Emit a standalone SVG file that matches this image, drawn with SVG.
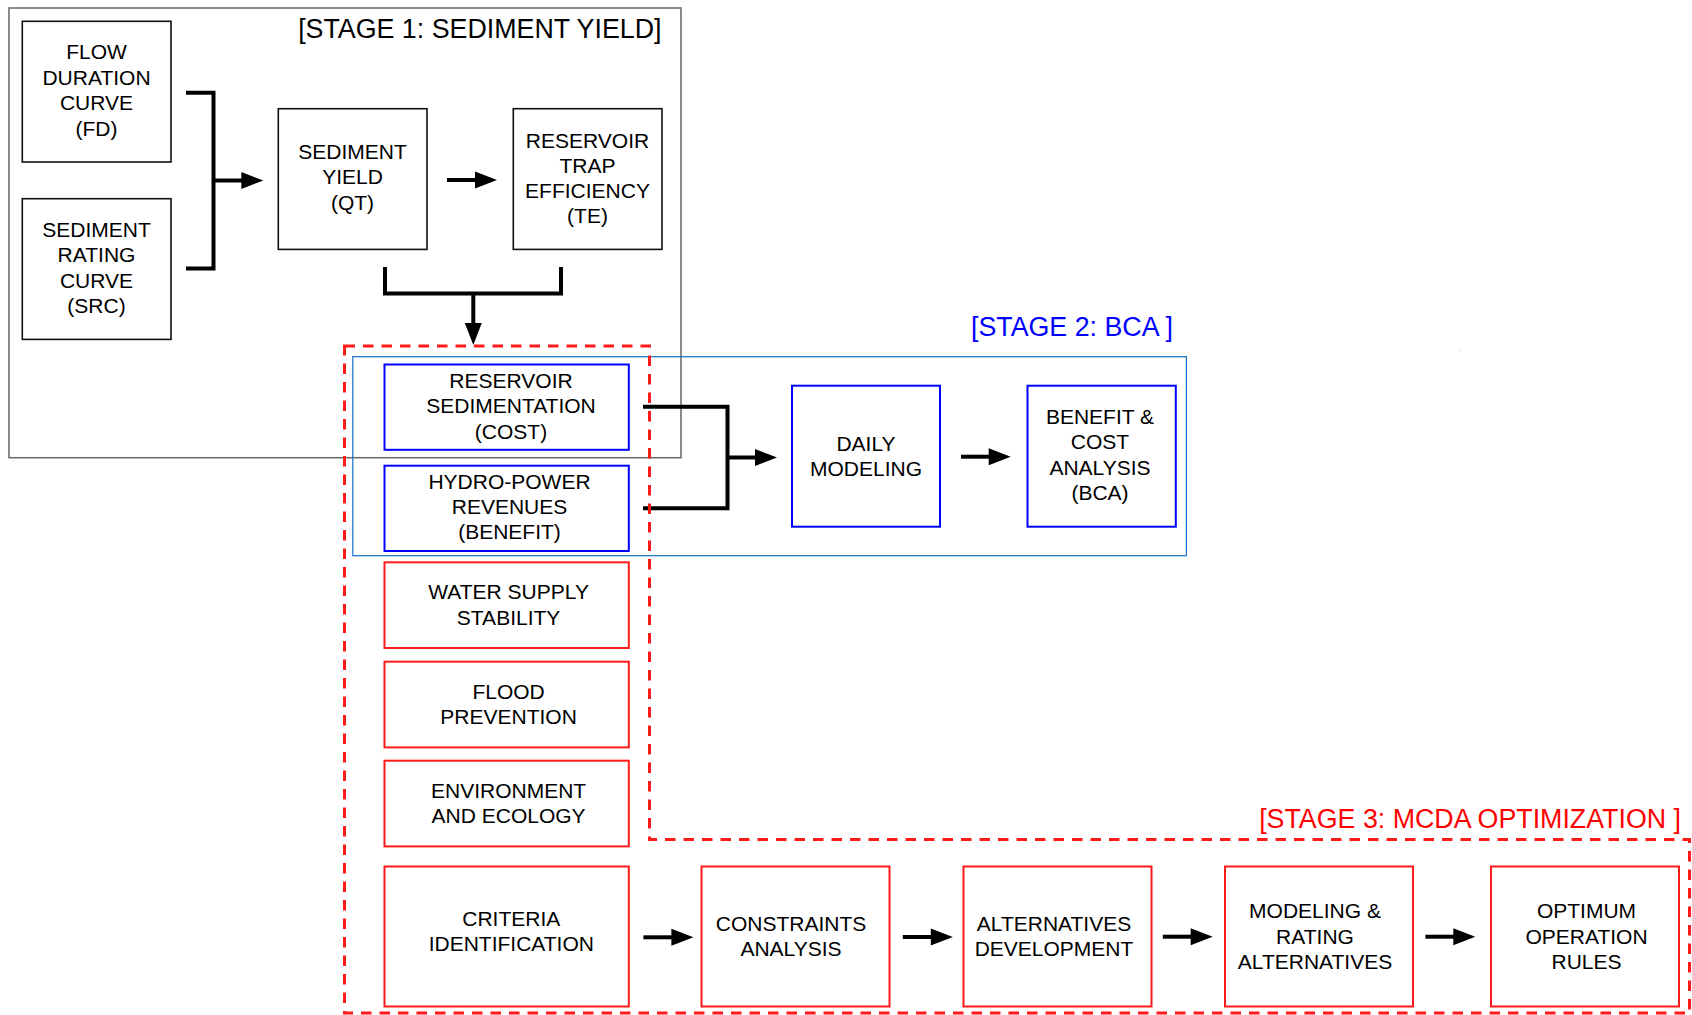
<svg xmlns="http://www.w3.org/2000/svg" width="1692" height="1015" viewBox="0 0 1692 1015">
<style>
text{font-family:"Liberation Sans",Arial,sans-serif;font-size:21px;fill:#000;text-anchor:middle}
.title{font-size:26.8px;text-anchor:end}
.k{fill:#fff;stroke:#111;stroke-width:1.6}
.b{fill:#fff;stroke:#0000FF;stroke-width:2}
.r{fill:#fff;stroke:#FF1A1A;stroke-width:2}
.conn{fill:none;stroke:#000;stroke-width:4;stroke-linejoin:miter;stroke-linecap:butt}
</style>
<defs>
<marker id="ah" markerUnits="userSpaceOnUse" markerWidth="23" markerHeight="19" refX="1" refY="9" orient="auto" overflow="visible">
<path d="M0,0.5 L22,9 L0,17.5 Z" fill="#000"/>
</marker>
</defs>
<rect width="1692" height="1015" fill="#fff"/>

<g id="stage1">
<rect x="9" y="8" width="672" height="449.7" fill="none" stroke="#666" stroke-width="1.5"/>
<text class="title" x="661.5" y="38">[STAGE 1: SEDIMENT YIELD]</text>
</g>
<g id="stage2">
<rect x="352.8" y="356.7" width="833.6" height="199" fill="none" stroke="#1070C8" stroke-width="1.2"/>
<text class="title" x="1173" y="336" style="fill:#0000FF">[STAGE 2: BCA ]</text>
</g>
<g id="stage3-title">
<text class="title" x="1681" y="828" style="fill:#FF0000">[STAGE 3: MCDA OPTIMIZATION ]</text>
</g>
<rect x="1458" y="350" width="2" height="1" fill="#ddd"/>

<g id="fd"><rect class="k" x="22.3" y="21.3" width="148.7" height="140.7"/>
<text x="96.5" y="59">FLOW</text><text x="96.5" y="84.5">DURATION</text><text x="96.5" y="110">CURVE</text><text x="96.5" y="135.5">(FD)</text></g>
<g id="src"><rect class="k" x="22.3" y="198.7" width="148.7" height="140.7"/>
<text x="96.5" y="237">SEDIMENT</text><text x="96.5" y="262.3">RATING</text><text x="96.5" y="287.6">CURVE</text><text x="96.5" y="312.9">(SRC)</text></g>
<g id="qt"><rect class="k" x="278.3" y="108.7" width="148.7" height="140.7"/>
<text x="352.5" y="159">SEDIMENT</text><text x="352.5" y="184.3">YIELD</text><text x="352.5" y="209.6">(QT)</text></g>
<g id="te"><rect class="k" x="513.3" y="108.7" width="148.7" height="140.7"/>
<text x="587.5" y="147.5">RESERVOIR</text><text x="587.5" y="172.8">TRAP</text><text x="587.5" y="198">EFFICIENCY</text><text x="587.5" y="223.3">(TE)</text></g>

<g id="cost"><rect class="b" x="384.5" y="364.5" width="244.3" height="85.3"/>
<text x="511" y="388">RESERVOIR</text><text x="511" y="413.3">SEDIMENTATION</text><text x="511" y="438.6">(COST)</text></g>
<g id="benefit"><rect class="b" x="384.5" y="465.7" width="244.3" height="85.3"/>
<text x="509.5" y="488.7">HYDRO-POWER</text><text x="509.5" y="514">REVENUES</text><text x="509.5" y="539.3">(BENEFIT)</text></g>
<g id="daily"><rect class="b" x="792" y="385.7" width="148" height="141"/>
<text x="866" y="450.7">DAILY</text><text x="866" y="476">MODELING</text></g>
<g id="bca"><rect class="b" x="1027.5" y="385.7" width="148.3" height="141"/>
<text x="1100" y="424">BENEFIT &amp;</text><text x="1100" y="449.3">COST</text><text x="1100" y="474.6">ANALYSIS</text><text x="1100" y="499.9">(BCA)</text></g>

<g id="water"><rect class="r" x="384.5" y="562.3" width="244.3" height="85.7"/>
<text x="508.6" y="599.3">WATER SUPPLY</text><text x="508.6" y="624.6">STABILITY</text></g>
<g id="flood"><rect class="r" x="384.5" y="661.7" width="244.3" height="85.7"/>
<text x="508.6" y="699">FLOOD</text><text x="508.6" y="724.3">PREVENTION</text></g>
<g id="env"><rect class="r" x="384.5" y="760.7" width="244.3" height="85.7"/>
<text x="508.6" y="798">ENVIRONMENT</text><text x="508.6" y="823.3">AND ECOLOGY</text></g>
<g id="criteria"><rect class="r" x="384.5" y="866.5" width="244.3" height="140"/>
<text x="511.3" y="925.7">CRITERIA</text><text x="511.3" y="951">IDENTIFICATION</text></g>
<g id="constraints"><rect class="r" x="701.5" y="866.5" width="188" height="140"/>
<text x="791" y="930.7">CONSTRAINTS</text><text x="791" y="956">ANALYSIS</text></g>
<g id="alternatives"><rect class="r" x="963.5" y="866.5" width="188" height="140"/>
<text x="1054" y="930.7">ALTERNATIVES</text><text x="1054" y="956">DEVELOPMENT</text></g>
<g id="modeling"><rect class="r" x="1225" y="866.5" width="188" height="140"/>
<text x="1315" y="918.3">MODELING &amp;</text><text x="1315" y="943.6">RATING</text><text x="1315" y="968.9">ALTERNATIVES</text></g>
<g id="optimum"><rect class="r" x="1491" y="866.5" width="188" height="140"/>
<text x="1586.5" y="918.3">OPTIMUM</text><text x="1586.5" y="943.6">OPERATION</text><text x="1586.5" y="968.9">RULES</text></g>

<g id="connectors" class="conn">
<polyline points="186,92.7 213.5,92.7 213.5,268.5 186,268.5"/>
<line x1="213.5" y1="180.5" x2="242.3" y2="180.5" marker-end="url(#ah)"/>
<line x1="447" y1="180" x2="476" y2="180" marker-end="url(#ah)"/>
<polyline points="385,267 385,293.5 561,293.5 561,267"/>
<line x1="473.3" y1="293.5" x2="473.3" y2="324" marker-end="url(#ah)"/>
<polyline points="643,406.7 727.5,406.7 727.5,508.3 643,508.3"/>
<line x1="727.5" y1="457.5" x2="756" y2="457.5" marker-end="url(#ah)"/>
<line x1="961" y1="456.7" x2="989.7" y2="456.7" marker-end="url(#ah)"/>
<line x1="643.4" y1="937.3" x2="672.4" y2="937.3" marker-end="url(#ah)"/>
<line x1="902.8" y1="937" x2="931.8" y2="937" marker-end="url(#ah)"/>
<line x1="1162.8" y1="936.7" x2="1191.7" y2="936.7" marker-end="url(#ah)"/>
<line x1="1425.4" y1="936.7" x2="1454.3" y2="936.7" marker-end="url(#ah)"/>
</g>

<g id="stage3">
<path d="M344.5,346 H649.5 V839.5 H1689.5 V1013 H344.5 Z" fill="none" stroke="#FF1A1A" stroke-width="3" stroke-dasharray="10.5 8"/>
</g>
</svg>
